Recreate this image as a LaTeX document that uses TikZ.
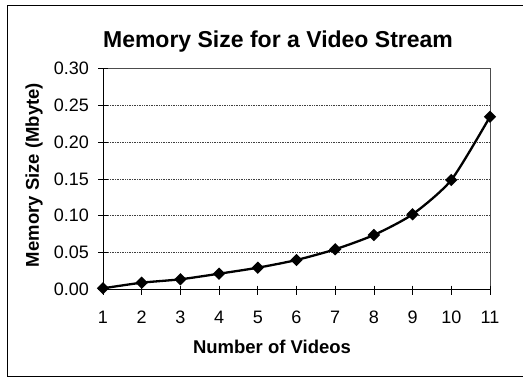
\documentclass[tikz,border=0pt]{standalone}
\usepackage{fontspec}
\setmainfont{Liberation Sans}
\usetikzlibrary{shapes.geometric}
\tikzset{
  gridline/.style={densely dotted, line width=0.7pt, black!75},
  frameline/.style={line width=0.8pt, black!70},
  axisline/.style={line width=0.9pt, black},
  tickline/.style={line width=0.8pt, black},
  curveline/.style={line width=2.3pt, black, line join=round},
  dmark/.style={diamond, fill=black, inner sep=0pt, minimum width=12.5pt, minimum height=12.5pt},
  ticklabel/.style={font=\fontsize{18}{18}\selectfont, inner sep=0pt},
  axistitle/.style={font=\fontsize{18.5}{18.5}\selectfont\bfseries, inner sep=0pt},
  charttitle/.style={font=\fontsize{23}{23}\selectfont\bfseries, inner sep=0pt},
  chartframe/.style={line width=0.9pt, black}
}
\begin{document}
\begin{tikzpicture}[x=1pt,y=-1pt]
\useasboundingbox (0,0) rectangle (523,380);
\fill[white] (0,0) rectangle (523,380);
% chart area frame (right side lies outside the picture)
\draw[chartframe] (540,5) -- (7,5) -- (7,376) -- (540,376);
% title
\node[charttitle, anchor=base] (title) at (278,48) {Memory Size for a Video Stream};
% plot area
\coordinate (ll) at (103,289.5);
\coordinate (ul) at (103,68.3);
\coordinate (ur) at (490,68.3);
\coordinate (lr) at (490,289.5);
% gridlines
\foreach \v/\yy in {0.05/252.6,0.10/215.8,0.15/178.9,0.20/142.0,0.25/105.2}{
  \draw[gridline] (103,\yy) -- (490,\yy);
}
\draw[frameline] (ul) -- (ur) -- (lr);
% axes
\draw[axisline] (ul) -- (ll) -- (lr);
% y ticks and labels
\foreach \lab/\yy in {0.00/289.5,0.05/252.6,0.10/215.8,0.15/178.9,0.20/142.0,0.25/105.2,0.30/68.3}{
  \draw[tickline] (98,\yy) -- (107.5,\yy);
  \node[ticklabel, anchor=east] at (89,\yy) {\lab};
}
% x ticks and labels
\foreach \i in {1,...,11}{
  \pgfmathsetmacro{\xx}{103+(\i-1)*38.7}
  \draw[tickline] (\xx,285.5) -- (\xx,295);
  \node[ticklabel, anchor=base] at (\xx,323.5) {\i};
}
% axis titles
\node[axistitle, anchor=base] (xtitle) at (272,353) {Number of Videos};
\node[axistitle, rotate=90] (ytitle) at (34,175) {Memory Size (Mbyte)};
% data
\coordinate (p1) at (103,288.3);
\coordinate (p2) at (141.7,282.7);
\coordinate (p3) at (180.4,279.3);
\coordinate (p4) at (219.1,273.7);
\coordinate (p5) at (257.8,267.7);
\coordinate (p6) at (296.5,260.0);
\coordinate (p7) at (335.2,249.3);
\coordinate (p8) at (373.9,235.0);
\coordinate (p9) at (412.6,214.3);
\coordinate (p10) at (451.3,180.0);
\coordinate (p11) at (490,116.7);
\draw[curveline] plot[smooth, tension=0.4] coordinates {(p1) (p2) (p3) (p4) (p5) (p6) (p7) (p8) (p9) (p10) (p11)};
\foreach \k in {1,...,11}{
  \node[dmark] (m\k) at (p\k) {};
}
\end{tikzpicture}
\end{document}
